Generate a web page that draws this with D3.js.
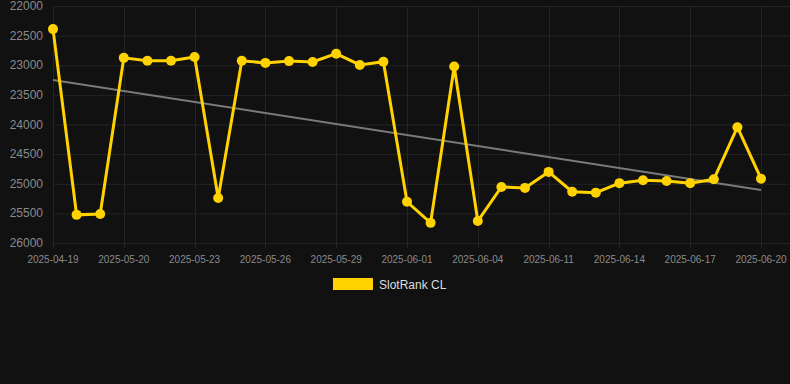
<!DOCTYPE html>
<html>
<head>
<meta charset="utf-8">
<script src="https://cdn.jsdelivr.net/npm/d3@7"></script>
<style>
  body { margin: 0; background: #111111; }
  svg { display: block; font-family: "Liberation Sans", Arial, sans-serif; }
</style>
</head>
<body>
<svg id="svg" width="790" height="384"></svg>
<script>
//Data
const DATES = [
    "2025-04-19", "2025-05-18", "2025-05-19", "2025-05-20", "2025-05-21", "2025-05-22",
    "2025-05-23", "2025-05-24", "2025-05-25", "2025-05-26", "2025-05-27", "2025-05-28",
    "2025-05-29", "2025-05-30", "2025-05-31", "2025-06-01", "2025-06-02", "2025-06-03",
    "2025-06-04", "2025-06-09", "2025-06-10", "2025-06-11", "2025-06-12", "2025-06-13",
    "2025-06-14", "2025-06-15", "2025-06-16", "2025-06-17", "2025-06-18", "2025-06-19",
    "2025-06-20"
];
const RANKS = [
    22390, 25525, 25510, 22875, 22925, 22925,
    22860, 25240, 22925, 22960, 22930, 22945,
    22805, 22995, 22940, 25305, 25660, 23020,
    25630, 25055, 25070, 24800, 25135, 25150,
    24990, 24940, 24955, 24990, 24925, 24045,
    24915
];
const TREND = [23250, 25105];
const Y_TICKS = [22000, 22500, 23000, 23500, 24000, 24500, 25000, 25500, 26000];
const X_LABEL_STEP = 3;
const SERIES_NAME = "SlotRank CL";

//Styles
const LINE_COLOR = "#ffd200";
const GRID_COLOR = "#242424";
const TICK_COLOR = "#8a8a8a";
const LEFT = 53, RIGHT = 761, TOP = 6, BOTTOM = 243;

const svg = d3.select("#svg");

let x_scale = d3.scalePoint().domain(DATES).range([LEFT, RIGHT]);
let y_scale = d3.scaleLinear().domain([22000, 26000]).range([TOP, BOTTOM]);

//Grid
svg.append("g")
    .selectAll("line")
    .data(Y_TICKS)
    .enter().append("line")
    .attr("x1", LEFT).attr("x2", 790)
    .attr("y1", d => y_scale(d) + 0.5).attr("y2", d => y_scale(d) + 0.5)
    .attr("stroke", GRID_COLOR);

let labelDates = DATES.filter((d, i) => i % X_LABEL_STEP === 0);
svg.append("g")
    .selectAll("line")
    .data(labelDates)
    .enter().append("line")
    .attr("x1", d => Math.round(x_scale(d)) + 0.5).attr("x2", d => Math.round(x_scale(d)) + 0.5)
    .attr("y1", TOP).attr("y2", BOTTOM + 5)
    .attr("stroke", GRID_COLOR);

//Y Axis Labels
svg.append("g")
    .selectAll("text")
    .data(Y_TICKS)
    .enter().append("text")
    .attr("x", 43)
    .attr("y", d => y_scale(d) + 4)
    .attr("text-anchor", "end")
    .attr("font-size", 12)
    .attr("fill", TICK_COLOR)
    .text(d => d);

//X Axis Labels
svg.append("g")
    .selectAll("text")
    .data(labelDates)
    .enter().append("text")
    .attr("x", d => x_scale(d))
    .attr("y", 263)
    .attr("text-anchor", "middle")
    .attr("font-size", 10)
    .attr("fill", TICK_COLOR)
    .text(d => d);

//Trend Line
svg.append("line")
    .attr("x1", x_scale(DATES[0]))
    .attr("y1", y_scale(TREND[0]))
    .attr("x2", x_scale(DATES[DATES.length - 1]))
    .attr("y2", y_scale(TREND[1]))
    .attr("stroke", "#7a7a7a")
    .attr("stroke-width", 2);

//Series Line
let line = d3.line()
    .x((d, i) => x_scale(DATES[i]))
    .y(d => y_scale(d));

svg.append("path")
    .datum(RANKS)
    .attr("d", line)
    .attr("fill", "none")
    .attr("stroke", LINE_COLOR)
    .attr("stroke-width", 3)
    .attr("stroke-linejoin", "miter");

svg.append("g")
    .selectAll("circle")
    .data(RANKS)
    .enter().append("circle")
    .attr("cx", (d, i) => x_scale(DATES[i]))
    .attr("cy", d => y_scale(d))
    .attr("r", 5)
    .attr("fill", LINE_COLOR);

//Legend
let legend = svg.append("g");
legend.append("rect")
    .attr("x", 333).attr("y", 278)
    .attr("width", 40).attr("height", 12)
    .attr("fill", LINE_COLOR);
legend.append("text")
    .attr("x", 379).attr("y", 288.5)
    .attr("font-size", 12)
    .attr("fill", "#dddddd")
    .text(SERIES_NAME);
</script>
</body>
</html>
